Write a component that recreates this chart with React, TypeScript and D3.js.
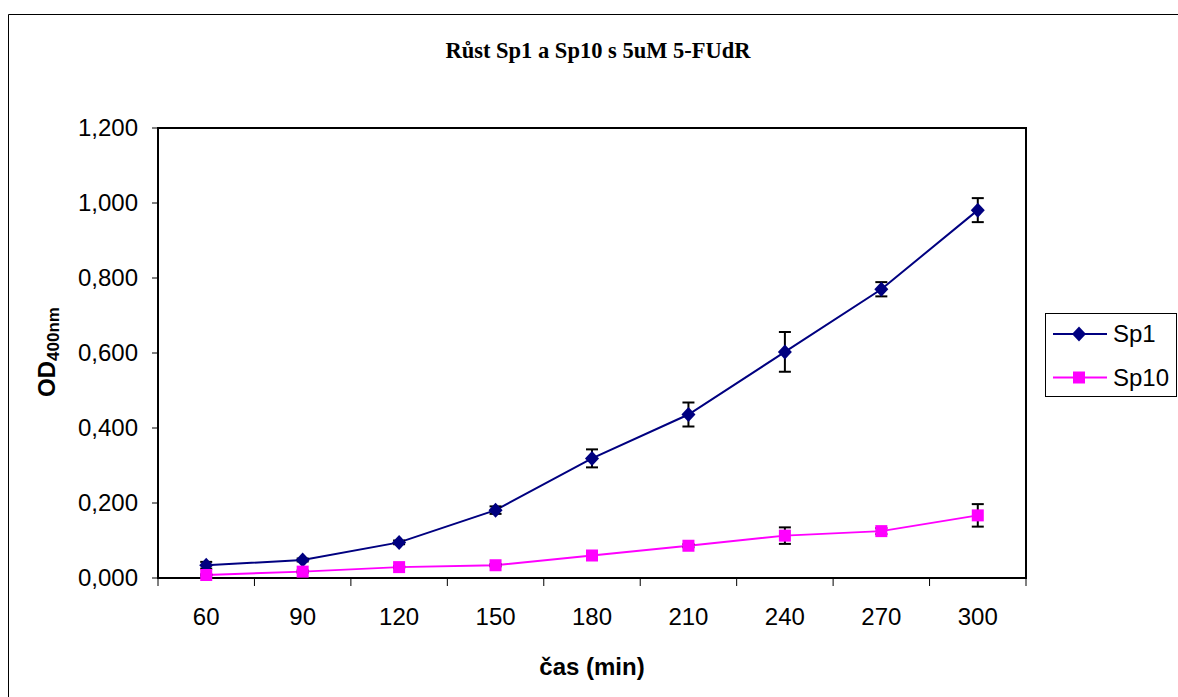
import React from "react";
import * as d3 from "d3";

const categories = ["60", "90", "120", "150", "180", "210", "240", "270", "300"];
const sp1Values = [0.034, 0.048, 0.095, 0.181, 0.319, 0.436, 0.603, 0.770, 0.981];
const sp1Errors = [0.009, 0.004, 0.005, 0.010, 0.024, 0.032, 0.053, 0.019, 0.032];
const sp10Values = [0.008, 0.017, 0.029, 0.034, 0.060, 0.086, 0.113, 0.125, 0.167];
const sp10Errors = [0.002, 0.003, 0.003, 0.003, 0.003, 0.004, 0.022, 0.008, 0.030];
const yTicks = [0, 0.2, 0.4, 0.6, 0.8, 1.0, 1.2];

const W = 1178;
const H = 697;
const plot = { left: 158, right: 1026, top: 128, bottom: 578 };
const SANS = "'Liberation Sans', Arial, sans-serif";
const SERIF = "'Liberation Serif', 'Times New Roman', serif";

export default function App() {
  const x = d3.scaleBand<string>().domain(categories).range([plot.left, plot.right]);
  const y = d3.scaleLinear().domain([0, 1.2]).range([plot.bottom, plot.top]);
  const cx = (c: string) => (x(c) as number) + x.bandwidth() / 2;
  const fmt = (v: number) => d3.format(".3f")(v).replace(".", ",");
  const line = d3
    .line<number>()
    .x((_, i) => cx(categories[i]))
    .y((v) => y(v));

  const series = [
    { name: "Sp1", values: sp1Values, errors: sp1Errors, color: "#000080", shape: "diamond" },
    { name: "Sp10", values: sp10Values, errors: sp10Errors, color: "#FF00FF", shape: "square" },
  ];

  const marker = (shape: string, px: number, py: number, color: string, key: string) =>
    shape === "diamond" ? (
      <path key={key} d={`M${px},${py - 7.5}L${px + 7},${py}L${px},${py + 7.5}L${px - 7},${py}Z`} fill={color} />
    ) : (
      <rect key={key} x={px - 6} y={py - 6} width={12} height={12} fill={color} />
    );

  const edges = categories.map((c) => x(c) as number).concat([plot.right]);

  return (
    <div style={{ position: "absolute", left: 0, top: 0 }}>
      <svg width={W} height={H} style={{ display: "block", background: "#fff" }}>
        <rect x={0} y={0} width={W} height={H} fill="#fff" />
        {/* outer chart border */}
        <path d={`M8.5,${H}V14.5H${W}`} fill="none" stroke="#000" strokeWidth={1} />
        {/* title */}
        <text x={598} y={58} textAnchor="middle" fontFamily={SERIF} fontWeight="bold" fontSize={22.5}>
          Růst Sp1 a Sp10 s 5uM 5-FUdR
        </text>
        {/* plot frame */}
        <rect
          x={plot.left}
          y={plot.top}
          width={plot.right - plot.left}
          height={plot.bottom - plot.top}
          fill="none"
          stroke="#000"
          strokeWidth={2}
        />
        {/* y ticks */}
        {yTicks.map((t) => (
          <g key={t}>
            <line x1={plot.left - 6} x2={plot.left} y1={y(t)} y2={y(t)} stroke="#000" strokeWidth={1} />
            <text
              x={138}
              y={y(t)}
              dy="0.35em"
              textAnchor="end"
              fontFamily={SANS}
              fontSize={24}
            >
              {fmt(t)}
            </text>
          </g>
        ))}
        {/* x ticks */}
        {edges.map((e, i) => (
          <line key={i} x1={e} x2={e} y1={plot.bottom} y2={plot.bottom + 8} stroke="#000" strokeWidth={1} />
        ))}
        {categories.map((c) => (
          <text key={c} x={cx(c)} y={625} textAnchor="middle" fontFamily={SANS} fontSize={24}>
            {c}
          </text>
        ))}
        {/* axis titles */}
        <text x={592} y={675} textAnchor="middle" fontFamily={SANS} fontWeight="bold" fontSize={24}>
          čas (min)
        </text>
        <text
          transform="translate(55,352) rotate(-90)"
          textAnchor="middle"
          fontFamily={SANS}
          fontWeight="bold"
          fontSize={24}
        >
          OD
          <tspan fontSize={17} dy={4}>
            400nm
          </tspan>
        </text>
        {/* series */}
        {series.map((s) => (
          <g key={s.name}>
            <path d={line(s.values) as string} fill="none" stroke={s.color} strokeWidth={2} />
            {s.values.map((v, i) => {
              const px = cx(categories[i]);
              const y1 = y(v + s.errors[i]);
              const y2 = y(v - s.errors[i]);
              return (
                <g key={i} stroke="#000" strokeWidth={2}>
                  <line x1={px} x2={px} y1={y1} y2={y2} />
                  <line x1={px - 6} x2={px + 6} y1={y1} y2={y1} />
                  <line x1={px - 6} x2={px + 6} y1={y2} y2={y2} />
                </g>
              );
            })}
            {s.values.map((v, i) => marker(s.shape, cx(categories[i]), y(v), s.color, s.name + i))}
          </g>
        ))}
        {/* legend */}
        <rect x={1045.5} y={313.5} width={131} height={83} fill="#fff" stroke="#000" strokeWidth={1} />
        {series.map((s, i) => {
          const ly = 334 + i * 43.5;
          return (
            <g key={s.name}>
              <line x1={1053} x2={1107} y1={ly} y2={ly} stroke={s.color} strokeWidth={2} />
              {marker(s.shape, 1079, ly, s.color, "lg" + i)}
              <text x={1113} y={ly} dy="0.35em" fontFamily={SANS} fontSize={24}>
                {s.name}
              </text>
            </g>
          );
        })}
      </svg>
    </div>
  );
}
